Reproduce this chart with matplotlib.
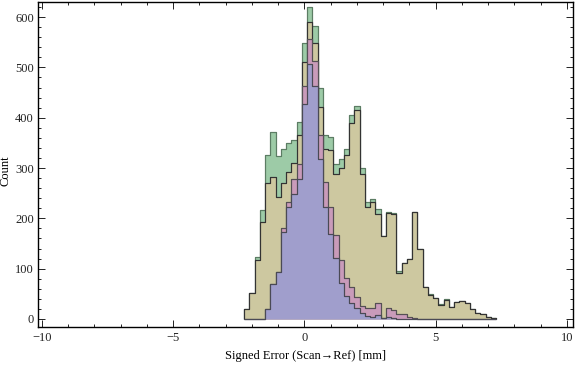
import numpy as np
import matplotlib.pyplot as plt
from matplotlib.ticker import MultipleLocator

# histogram data, bins of 0.2 mm starting at -2.3
bin_start = -2.3
bin_width = 0.2

green = [20, 51, 123, 216, 325, 372, 324, 337, 349, 355, 392, 549, 620, 583, 459, 366,
         362, 307, 317, 337, 406, 423, 300, 232, 238, 218, 165, 212, 210, 95, 111, 119,
         212, 139, 63, 49, 41, 29, 39, 23, 33, 36, 31, 19, 11, 9, 4, 1]
olive = [20, 51, 117, 193, 270, 282, 242, 271, 293, 310, 366, 510, 591, 549, 422, 338,
         336, 288, 300, 326, 389, 415, 288, 222, 232, 208, 164, 210, 209, 92, 111, 119,
         212, 139, 63, 48, 41, 27, 38, 23, 33, 36, 31, 19, 11, 9, 4, 1]
pink = [0, 0, 0, 0, 20, 70, 93, 180, 233, 278, 308, 464, 556, 513, 366, 273,
        223, 167, 117, 82, 63, 43, 26, 21, 21, 31, 2, 22, 18, 9, 9, 3,
        2, 0, 0, 0, 0, 0, 0, 0, 0, 0, 0, 0, 0, 0, 0, 0]
blue = [0, 0, 0, 0, 20, 70, 93, 172, 222, 249, 278, 427, 506, 463, 317, 223,
        169, 121, 71, 46, 32, 21, 11, 6, 4, 7, 1, 4, 1, 0, 0, 0,
        0, 0, 0, 0, 0, 0, 0, 0, 0, 0, 0, 0, 0, 0, 0, 0]

xticks = [-10, -5, 0, 5, 10]
xticklabels = ["\u221210", "\u22125", "0", "5", "10"]
yticks = [0, 100, 200, 300, 400, 500, 600]

edges = bin_start + bin_width * np.arange(len(green) + 1)

serif = ['Liberation Serif', 'DejaVu Serif']
plt.rcParams['font.family'] = serif

fig = plt.figure(figsize=(5.76, 3.66), dpi=100)
ax = fig.add_axes([38 / 576, 1 - 327 / 366, 535 / 576, 325 / 366])

series = [(green, '#9dcba7', '#5c7d64'),
          (olive, '#cdc8a0', '#333333'),
          (pink, '#c99bba', '#555055'),
          (blue, '#a09ecc', '#4a4a55')]
for vals, fc, ec in series:
    ax.stairs(vals, edges, fill=True, facecolor=fc, edgecolor=ec, linewidth=0.8)
    ax.stairs(vals, edges, fill=False, color=ec, linewidth=0.8)

ax.set_xlim(-10.15, 10.23)
ax.set_ylim(-16, 630)
ax.set_xticks(xticks)
ax.set_xticklabels(xticklabels)
ax.set_yticks(yticks)
ax.xaxis.set_minor_locator(MultipleLocator(1))
ax.yaxis.set_minor_locator(MultipleLocator(20))
ax.tick_params(which='both', direction='in', top=True, right=True,
               labelsize=9, colors='#222222', width=0.7)
ax.tick_params(which='major', length=5)
ax.tick_params(which='minor', length=2.5)
ax.tick_params(axis='y', pad=3)
for s in ax.spines.values():
    s.set_linewidth(1.0)
    s.set_color('black')

ax.set_xlabel("Signed Error (Scan\u2192Ref) [mm]", fontsize=9)
ax.xaxis.set_label_coords(0.5, -0.07)
ax.set_ylabel("Count", fontsize=9)
ax.yaxis.set_label_coords(-0.05, 0.48)

fig.savefig('out.png', dpi=100)
